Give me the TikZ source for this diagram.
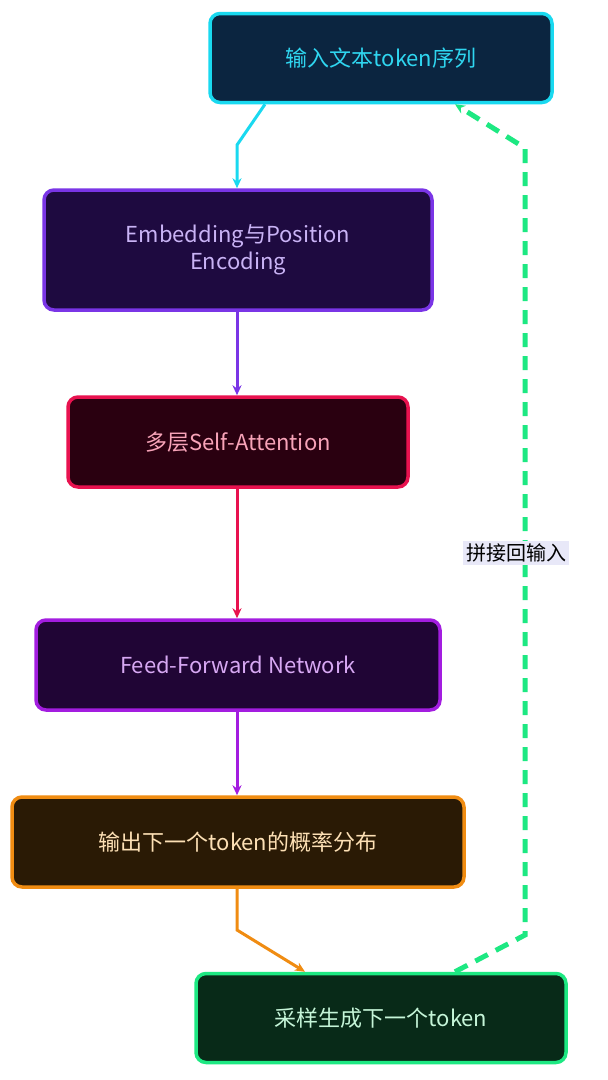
\documentclass[tikz,border=0pt]{standalone}
\usepackage{fontspec}
\setmainfont{Noto Sans CJK SC}
\usetikzlibrary{arrows.meta}
\definecolor{c1b}{HTML}{19D9F0}\definecolor{c1f}{HTML}{0B2540}\definecolor{c1t}{HTML}{2FD6F0}
\definecolor{c2b}{HTML}{7A35E6}\definecolor{c2f}{HTML}{1E0A40}\definecolor{c2t}{HTML}{C9B3F5}
\definecolor{c3b}{HTML}{E8124F}\definecolor{c3f}{HTML}{2A0010}\definecolor{c3t}{HTML}{F7A3B8}
\definecolor{c4b}{HTML}{A31DE0}\definecolor{c4f}{HTML}{200535}\definecolor{c4t}{HTML}{D7A8F3}
\definecolor{c5b}{HTML}{F08C12}\definecolor{c5f}{HTML}{2A1A05}\definecolor{c5t}{HTML}{FDE0B5}
\definecolor{c6b}{HTML}{1DE882}\definecolor{c6f}{HTML}{082A18}\definecolor{c6t}{HTML}{C5F5D8}
\definecolor{lbl}{HTML}{E8E8F8}
\begin{document}
\begin{tikzpicture}[x=1pt,y=-1pt,
box/.style={rounded corners=10pt,line width=3.5pt,align=center,font=\fontsize{22}{27}\selectfont,inner sep=0pt},
ar/.style={line width=3pt,-{Stealth[length=10pt,width=9pt]}}]
\useasboundingbox[fill=white] (0,0) rectangle (608,1080);
\node[box,draw=c1b,fill=c1f,text=c1t,minimum width=342pt,minimum height=89pt] (a) at (381,58) {输入文本token序列};
\node[box,draw=c2b,fill=c2f,text=c2t,minimum width=388pt,minimum height=120pt] (b) at (238,250) {Embedding与Position\\Encoding};
\node[box,draw=c3b,fill=c3f,text=c3t,minimum width=340pt,minimum height=90pt] (c) at (238,442) {多层Self-Attention};
\node[box,draw=c4b,fill=c4f,text=c4t,minimum width=404pt,minimum height=90pt] (d) at (238,665) {Feed-Forward Network};
\node[box,draw=c5b,fill=c5f,text=c5t,minimum width=452pt,minimum height=90pt] (e) at (238,842) {输出下一个token的概率分布};
\node[box,draw=c6b,fill=c6f,text=c6t,minimum width=370pt,minimum height=89pt] (f) at (381,1018) {采样生成下一个token};
\draw[ar,c1b] (a.south -| 265,0) -- (237,145) -- (b.north -| 237,0);
\draw[ar,c2b] (b.south -| 237,0) -- (c.north -| 237,0);
\draw[ar,c3b] (c.south -| 237,0) -- (d.north -| 237,0);
\draw[ar,c4b] (d.south -| 237,0) -- (e.north -| 237,0);
\draw[ar,c5b] (e.south -| 237,0) -- (237,930) -- (f.north -| 305,0);
\draw[ar,c6b,dash pattern=on 14pt off 9pt,line width=5pt] (f.north -| 455,0) -- (525,935) -- (525,148) -- (a.south -| 455,0);
\node[fill=lbl,font=\fontsize{20}{24}\selectfont,inner sep=3pt] (l) at (516,553) {拼接回输入};
\end{tikzpicture}
\end{document}
